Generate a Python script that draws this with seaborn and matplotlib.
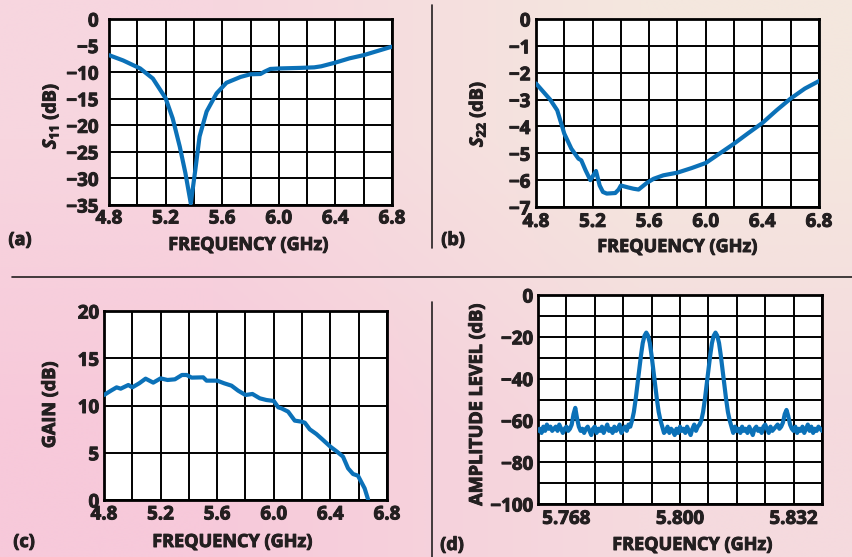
import numpy as np
import matplotlib
matplotlib.use("Agg")
import matplotlib.pyplot as plt
import matplotlib.patheffects as pe
import seaborn as sns
from matplotlib.lines import Line2D
from matplotlib.text import Text
from matplotlib.ticker import FixedLocator, FixedFormatter

# ---------------- data ----------------
s11_freq = [4.80, 4.90, 5.02, 5.11, 5.20, 5.25, 5.30, 5.34, 5.378, 5.41, 5.44, 5.49,
            5.56, 5.63, 5.73, 5.80, 5.87, 5.90, 5.94, 6.01, 6.15, 6.25, 6.30, 6.40,
            6.50, 6.60, 6.70, 6.80]
s11_db = [-6.8, -7.8, -9.3, -11.2, -14.9, -18.7, -24.0, -29.0, -34.7, -28.4, -22.1, -17.4,
          -14.0, -12.0, -10.9, -10.4, -10.35, -9.9, -9.4, -9.3, -9.2, -9.1, -8.9, -8.2,
          -7.4, -6.8, -6.0, -5.2]

s22_freq = [4.80, 4.85, 4.90, 4.95, 5.00, 5.05, 5.10, 5.12, 5.15, 5.184, 5.224, 5.25,
            5.273, 5.30, 5.36, 5.384, 5.40, 5.45, 5.489, 5.525, 5.584, 5.631, 5.70,
            5.80, 5.90, 6.00, 6.10, 6.20, 6.30, 6.40, 6.50, 6.60, 6.70, 6.80]
s22_db = [-2.4, -2.7, -3.0, -3.4, -4.27, -4.83, -5.2, -5.26, -5.63, -6.0, -5.66, -6.2,
          -6.44, -6.5, -6.48, -6.35, -6.2, -6.27, -6.32, -6.35, -6.1, -5.95, -5.82,
          -5.72, -5.55, -5.36, -5.0, -4.64, -4.25, -3.87, -3.4, -2.96, -2.59, -2.31]

gain_freq = [4.800, 4.849, 4.889, 4.918, 4.972, 5.000, 5.049, 5.094, 5.148, 5.200,
             5.249, 5.301, 5.351, 5.384, 5.419, 5.501, 5.525, 5.600, 5.649, 5.701,
             5.748, 5.800, 5.849, 5.901, 5.948, 6.000, 6.031, 6.054, 6.101, 6.148,
             6.195, 6.219, 6.254, 6.301, 6.348, 6.400, 6.447, 6.489, 6.525, 6.560,
             6.595, 6.642, 6.666]
gain_db = [11.11, 11.57, 11.92, 11.78, 12.17, 11.92, 12.35, 12.84, 12.42, 12.87,
           12.70, 12.77, 13.23, 13.23, 12.95, 12.98, 12.63, 12.63, 12.35, 12.10,
           11.57, 11.11, 11.22, 10.76, 10.58, 10.48, 9.81, 9.70, 9.35, 8.40,
           8.29, 8.18, 7.48, 6.98, 6.35, 5.64, 5.11, 4.59, 3.35, 2.75,
           2.57, 1.23, 0.07]

# spectrum: 161 samples, 5.7600 ... 5.8400 GHz in 0.5 MHz steps
spec_start, spec_step = 5.760, 0.0005
spec_db = [
    -65, -64, -66, -63, -65, -62, -64, -63, -65, -64,
    -63, -65, -62, -64, -66, -64, -63, -65, -64, -62,
    -57, -54, -59, -63, -65, -64, -66, -64, -63, -65,
    -67, -64, -63, -66, -64, -65, -63, -66, -64, -62,
    -65, -64, -66, -63, -65, -64, -62, -66, -64, -63,
    -65, -62, -63, -60, -56, -50, -43, -36, -29, -23,
    -19.5, -18, -19.5, -23, -29, -36, -43, -50, -56, -60,
    -63, -66, -65, -63, -66, -64, -65, -67, -64, -66,
    -63, -65, -64, -66, -63, -65, -67, -64, -62, -65,
    -63, -62, -60, -56, -50, -43, -36, -29, -23, -19.5,
    -18, -19.5, -23, -29, -36, -43, -50, -56, -60, -63,
    -66, -63, -65, -64, -66, -63, -65, -64, -66, -63,
    -65, -67, -64, -63, -65, -64, -66, -63, -62, -64,
    -66, -63, -65, -64, -63, -62, -64, -63, -61, -57,
    -55, -58, -62, -64, -65, -63, -66, -64, -65, -63,
    -66, -64, -62, -65, -63, -66, -64, -65, -63, -64,
    -65]
spec_freq = [spec_start + i * spec_step for i in range(len(spec_db))]

a_xticks = [4.8, 5.2, 5.6, 6.0, 6.4, 6.8]
a_xticklabels = ["4.8", "5.2", "5.6", "6.0", "6.4", "6.8"]
a_yticks = [0, -5, -10, -15, -20, -25, -30, -35]
a_yticklabels = ["0", "\u22125", "\u221210", "\u221215", "\u221220", "\u221225", "\u221230", "\u221235"]
b_yticks = [0, -1, -2, -3, -4, -5, -6, -7]
b_yticklabels = ["0", "\u22121", "\u22122", "\u22123", "\u22124", "\u22125", "\u22126", "\u22127"]
c_yticks = [0, 5, 10, 15, 20]
c_yticklabels = ["0", "5", "10", "15", "20"]
d_xticks = [5.768, 5.800, 5.832]
d_xticklabels = ["5.768", "5.800", "5.832"]
d_yticks = [0, -20, -40, -60, -80, -100]
d_yticklabels = ["0", "\u221220", "\u221240", "\u221260", "\u221280", "\u2212100"]
freq_grid = [4.8, 5.0, 5.2, 5.4, 5.6, 5.8, 6.0, 6.2, 6.4, 6.6, 6.8]
d_xgrid = [5.760, 5.768, 5.776, 5.784, 5.792, 5.800, 5.808, 5.816, 5.824, 5.832, 5.840]
d_ygrid = [0, -10, -20, -30, -40, -50, -60, -70, -80, -90, -100]

# ---------------- style ----------------
sns.set_theme(style="white")
FONT = 'Open Sans'
plt.rcParams['font.family'] = [FONT, 'DejaVu Sans']
plt.rcParams['font.weight'] = 'bold'
plt.rcParams['mathtext.fontset'] = 'custom'
plt.rcParams['mathtext.it'] = FONT + ':italic:bold'
plt.rcParams['mathtext.bf'] = FONT + ':bold'
plt.rcParams['mathtext.rm'] = FONT + ':bold'

BLUE = "#0b71b8"
TXT = "#231f20"
W, H = 853, 557
TICK_FS = 13.5
LAB_FS = 13
WT = 'bold'

fig = plt.figure(figsize=(W / 100, H / 100), dpi=100)

# background gradient
bg = fig.add_axes([0, 0, 1, 1], zorder=-10)
grad = np.array([[[247, 214, 223], [244, 231, 222]],
                 [[247, 201, 218], [245, 218, 222]]]) / 255.0
bg.imshow(grad, interpolation='bilinear', aspect='auto', extent=[0, 1, 0, 1])
bg.set_axis_off()


def panel(box, x, y, xlim, ylim, xgrid, ygrid, xt, xtl, yt, ytl,
          xlabel, ylabel, xlab_c, ylab_c, xpad, ypad, lw=3.0):
    l, t, r, b = box
    ax = fig.add_axes([l / W, 1 - b / H, (r - l) / W, (b - t) / H])
    ax.set_facecolor('white')
    sns.lineplot(x=x, y=y, ax=ax, color=BLUE, lw=lw, estimator=None, sort=False, zorder=3)
    ax.set_xlim(*xlim)
    ax.set_ylim(*ylim)
    ax.xaxis.set_minor_locator(FixedLocator(xgrid))
    ax.yaxis.set_minor_locator(FixedLocator(ygrid))
    ax.xaxis.set_major_locator(FixedLocator(xt))
    ax.xaxis.set_major_formatter(FixedFormatter(xtl))
    ax.yaxis.set_major_locator(FixedLocator(yt))
    ax.yaxis.set_major_formatter(FixedFormatter(ytl))
    ax.grid(True, which='both', color='black', lw=1.4)
    ax.tick_params(which='both', length=0)
    ax.tick_params(axis='x', pad=xpad, labelsize=TICK_FS, labelcolor=TXT)
    ax.tick_params(axis='y', pad=ypad, labelsize=TICK_FS, labelcolor=TXT)
    for lab in ax.get_xticklabels() + ax.get_yticklabels():
        lab.set_fontweight(WT)
    for s in ax.spines.values():
        s.set_visible(True)
        s.set_color('black')
        s.set_linewidth(2.0)
    ax.set_xlabel(xlabel, fontsize=LAB_FS, fontweight=WT, color=TXT, va='center')
    ax.set_ylabel(ylabel, fontsize=LAB_FS, fontweight=WT, color=TXT, va='center')
    ax.xaxis.set_label_coords((xlab_c[0] - l) / (r - l), (b - xlab_c[1]) / (b - t))
    ax.yaxis.set_label_coords((ylab_c[0] - l) / (r - l), (b - ylab_c[1]) / (b - t))
    return ax


panel((109, 19, 392, 205), s11_freq, s11_db, (4.8, 6.8), (-35, 0),
      freq_grid, a_yticks, a_xticks, a_xticklabels, a_yticks, a_yticklabels,
      "FREQUENCY (GHz)", r"$\mathit{S}_{\mathbf{11}}$ (dB)",
      (248, 245), (50, 116), 2.5, 7.5)

panel((536, 19, 819, 207), s22_freq, s22_db, (4.8, 6.8), (-7, 0),
      freq_grid, b_yticks, a_xticks, a_xticklabels, b_yticks, b_yticklabels,
      "FREQUENCY (GHz)", r"$\mathit{S}_{\mathbf{22}}$ (dB)",
      (677, 247), (477, 114), 3.5, 4.0)

panel((104, 311, 387, 500), gain_freq, gain_db, (4.8, 6.8), (0, 20),
      freq_grid, c_yticks, a_xticks, a_xticklabels, c_yticks, c_yticklabels,
      "FREQUENCY (GHz)", "GAIN (dB)",
      (232, 542), (50, 405), 3.2, 3.5)

panel((538, 295, 822, 504), spec_freq, spec_db, (5.760, 5.840), (-100, 0),
      d_xgrid, d_ygrid, d_xticks, d_xticklabels, d_yticks, d_yticklabels,
      "FREQUENCY (GHz)", "AMPLITUDE LEVEL (dB)",
      (692, 545), (477, 405), 3.5, 3.5, lw=3.0)

# panel letters
for txt, (px, py) in [("(a)", (20, 240)), ("(b)", (453, 240)),
                      ("(c)", (24, 542)), ("(d)", (452, 545))]:
    fig.text(px / W, 1 - py / H, txt, ha='center', va='center',
             fontsize=LAB_FS, fontweight=WT, color=TXT)

# divider lines
def fline(x0, y0, x1, y1):
    fig.add_artist(Line2D([x0 / W, x1 / W], [1 - y0 / H, 1 - y1 / H],
                          color=TXT, lw=1.2, transform=fig.transFigure))

fline(432, 5, 432, 248)
fline(432, 302, 432, 557)
fline(12, 277, 853, 277)

# heavier lettering, as in the printed figure
heavy = [pe.withStroke(linewidth=0.7, foreground=TXT)]
for t in fig.findobj(Text):
    if t.get_text():
        t.set_path_effects(heavy)

fig.savefig("out.png", dpi=100)
